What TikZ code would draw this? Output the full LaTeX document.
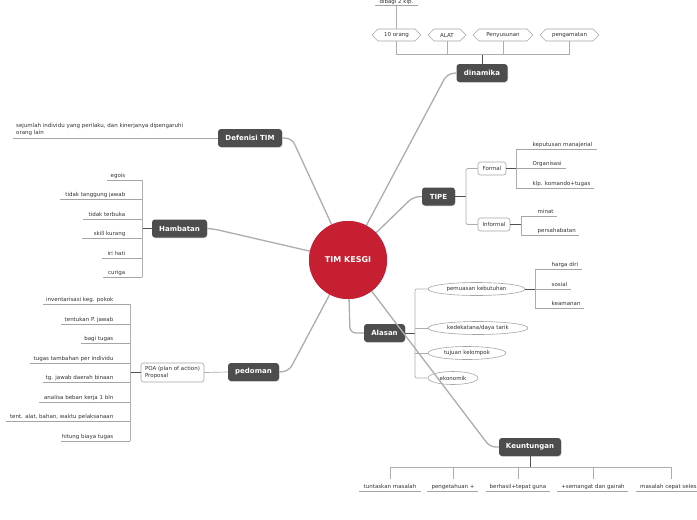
\documentclass[tikz,border=0pt]{standalone}
\usepackage{fontspec}
\setmainfont{DejaVu Sans}
\usetikzlibrary{shapes.geometric,shapes.symbols,shadows}
\definecolor{topicgray}{HTML}{4D4D4D}
\definecolor{timred}{HTML}{C71F32}
\definecolor{linegray}{HTML}{ADADAD}
\definecolor{ulgray}{HTML}{A5A5A5}
\definecolor{darkline}{HTML}{505050}
\definecolor{txtgray}{HTML}{333333}
\newcommand{\myleafL}[5]{%
  \draw[ul] (#3,#2) -- (#4,#2);
  \node[leaf, anchor=base east] (#1) at (#4-16.5,#2-2.8) {#5};}
\newcommand{\myleafR}[5]{%
  \draw[ul] (#3,#2) -- (#4,#2);
  \node[leaf, anchor=base west] (#1) at (#3+16.5,#2-2.8) {#5};}
\begin{document}
\begin{tikzpicture}[x=1pt,y=-1pt,
  topic/.style={fill=topicgray, rounded corners=3pt, text=white,
    font=\bfseries\fontsize{7}{8}\selectfont, minimum height=18pt, inner sep=0pt,
    drop shadow={opacity=0.25, shadow xshift=0.6pt, shadow yshift=-0.8pt}},
  leaf/.style={font=\fontsize{5.5}{7}\selectfont, text=txtgray, inner sep=0pt},
  ul/.style={draw=ulgray, line width=0.6pt},
  branch/.style={draw=linegray, line width=0.7pt},
  link/.style={draw=darkline, line width=1pt},
  main/.style={draw=linegray, line width=1.3pt, rounded corners=6pt},
  hex/.style={shape=signal, signal to=west and east, draw=ulgray, line width=0.6pt,
    minimum height=12pt, inner sep=0pt, font=\fontsize{5.5}{6}\selectfont, text=txtgray},
  box/.style={draw=ulgray, line width=0.6pt, rounded corners=2.5pt, fill=white,
    inner sep=2pt, font=\fontsize{5.5}{6.6}\selectfont, text=txtgray},
  ell/.style={ellipse, draw=ulgray, line width=0.6pt, fill=white, minimum height=13pt,
    inner sep=0pt, font=\fontsize{5.5}{6}\selectfont, text=txtgray}
]
\useasboundingbox (0,0) rectangle (697,520);
\fill[white] (0,0) rectangle (697,520);

% main topics
\node[topic, minimum width=51pt] (din) at (482,73) {dinamika};
\node[topic, minimum width=64pt] (def) at (250,138) {Defenisi TIM};
\node[topic, minimum width=55pt] (ham) at (179.5,228.5) {Hambatan};
\node[topic, minimum width=33pt] (tipe) at (438.5,196.5) {TIPE};
\node[topic, minimum width=41pt] (ala) at (384.5,333) {Alasan};
\node[topic, minimum width=51pt] (ped) at (253.5,372) {pedoman};
\node[topic, minimum width=62pt] (keu) at (530,447) {Keuntungan};

% central node (position reference for connectors)
\coordinate (timc) at (348,260);
\node[circle, minimum size=78pt, inner sep=0pt] (tim) at (timc) {};

% main connectors
\coordinate (bdin) at (447,74);
\coordinate (bdef) at (292,138.5);
\coordinate (bham) at (214,229);
\coordinate (btipe) at (413,197);
\coordinate (bala) at (350,333);
\coordinate (bped) at (289,371);
\coordinate (bkeu) at (490,447);
\draw[main] (din.west) -- (bdin) -- (tim);
\draw[main] (def.east) -- (bdef) -- (tim);
\draw[main] (ham.east) -- (bham) -- (tim);
\draw[main] (tipe.west) -- (btipe) -- (tim);
\draw[main] (ala.west) -- (bala) -- (tim);
\draw[main] (ped.east) -- (bped) -- (tim);

% central circle drawn over connector ends
\node[circle, fill=timred, minimum size=78pt, inner sep=0pt, text=white,
  font=\bfseries\fontsize{8}{9}\selectfont] (timtxt) at (timc) {TIM KESGI};

% ---------- dinamika ----------
\node[hex, minimum width=49pt] (h1) at (396.5,35) {10 orang};
\node[hex, minimum width=38pt] (h2) at (447,35) {ALAT};
\node[hex, minimum width=60pt] (h3) at (503,35) {Penyusunan};
\node[hex, minimum width=59pt] (h4) at (569.5,35) {pengamatan};
\coordinate (dinbar) at (482,54);
\draw[link] (din.north) -- (dinbar);
\draw[branch] (h1.south) -- (h1.south |- dinbar) -- (h4.south |- dinbar) -- (h4.south);
\draw[branch] (h2.south) -- (h2.south |- dinbar);
\draw[branch] (h3.south) -- (h3.south |- dinbar);
\coordinate (dibul) at (396.5,5);
\draw[branch] (h1.north) -- (dibul);
\draw[ul] (375,5) -- (418,5);
\node[leaf, anchor=base] (dib) at (396.5,3) {dibagi 2 klp.};

% ---------- Defenisi TIM ----------
\coordinate (defl) at (13,138);
\draw[ul] (def.west) -- (defl);
\node[leaf, anchor=south west, align=left] (deft) at (16,136)
  {sejumlah individu yang perilaku, dan kinerjanya dipengaruhi\\orang lain};

% ---------- Hambatan ----------
\coordinate (hambar) at (142,228.5);
\draw[link] (ham.west) -- (hambar);
\draw[branch] (142,180) -- (142,277);
\myleafL{hb1}{180}{107}{142}{egois}
\myleafL{hb2}{199}{60}{142}{tidak tanggung jawab}
\myleafL{hb3}{219}{83}{142}{tidak terbuka}
\myleafL{hb4}{238}{82}{142}{skill kurang}
\myleafL{hb5}{258}{102}{142}{iri hati}
\myleafL{hb6}{277}{103}{142}{curiga}

% ---------- pedoman ----------
\node[box, minimum width=63pt, minimum height=19pt, align=left] (poa) at (172.5,372.5)
  {POA (plan of action)\\Proposal};
\draw[branch] (ped.west) -- (poa.east);
\coordinate (poabar) at (130,372.5);
\draw[link] (poa.west) -- (poabar);
\draw[branch] (130,304) -- (130,441);
\myleafL{pd1}{304}{43}{130}{inventarisasi keg. pokok}
\myleafL{pd2}{324}{61}{130}{tentukan P. jawab}
\myleafL{pd3}{343}{81}{130}{bagi tugas}
\myleafL{pd4}{363}{30}{130}{tugas tambahan per individu}
\myleafL{pd5}{382}{43}{130}{tg. jawab daerah binaan}
\myleafL{pd6}{402}{39}{130}{analisa beban kerja 1 bln}
\myleafL{pd7}{421}{6}{130}{tent. alat, bahan, waktu pelaksanaan}
\myleafL{pd8}{441}{61}{130}{hitung biaya tugas}

% ---------- TIPE ----------
\node[box, minimum width=28pt, minimum height=13pt] (form) at (492,168.5) {Formal};
\node[box, minimum width=32pt, minimum height=13pt] (inf) at (494,224.5) {Informal};
\coordinate (tipebar) at (466,196.5);
\draw[link] (tipe.east) -- (tipebar);
\draw[branch, rounded corners=2pt] (form.west) -| (tipebar) |- (inf.west);
\coordinate (formbar) at (516,168.5);
\draw[link] (form.east) -- (formbar);
\draw[branch] (516,149) -- (516,188);
\myleafR{fo1}{149}{516}{597}{keputusan manajerial}
\myleafR{fo2}{168.5}{516}{566}{Organisasi}
\myleafR{fo3}{188}{516}{594}{klp. komando+tugas}
\coordinate (infbar) at (521,224.5);
\draw[link] (inf.east) -- (infbar);
\draw[branch] (521,216) -- (521,235);
\myleafR{in1}{216}{521}{557}{minat}
\myleafR{in2}{235}{521}{579}{persahabatan}

% ---------- Alasan ----------
\node[ell, minimum width=97pt] (e1) at (476.5,289) {pemuasan kebutuhan};
\node[ell, minimum width=100pt] (e2) at (478,328) {kedekatana/daya tarik};
\node[ell, minimum width=78pt] (e3) at (467,353) {tujuan kelompok};
\node[ell, minimum width=50pt] (e4) at (453,378) {ekonomik};
\coordinate (alabar) at (415,333);
\draw[link] (ala.east) -- (alabar);
\draw[branch, rounded corners=2pt] (e1.west) -| (alabar) |- (e4.west);
\draw[branch] (e2.west) -- (e2.west -| alabar);
\draw[branch] (e3.west) -- (e3.west -| alabar);
\coordinate (e1bar) at (535,289);
\draw[link] (e1.east) -- (e1bar);
\draw[branch] (535,269) -- (535,308);
\myleafR{pk1}{269}{535}{582}{harga diri}
\myleafR{pk2}{289}{535}{571}{sosial}
\myleafR{pk3}{308}{535}{584}{keamanan}

% Keuntungan connector, drawn over the Alasan branches
\draw[main] (keu.west) -- (bkeu) -- (tim);
\node[circle, fill=timred, minimum size=78pt, inner sep=0pt, text=white,
  font=\bfseries\fontsize{8}{9}\selectfont] (timtop) at (timc) {TIM KESGI};

% ---------- Keuntungan ----------
\coordinate (keubar) at (530,467);
\draw[link] (keu.south) -- (keubar);
\draw[branch] (390,479) -- (390,467) -- (671,467) -- (671,479);
\draw[branch] (453,467) -- (453,479);
\draw[branch] (518,467) -- (518,479);
\draw[branch] (593,467) -- (593,479);
\draw[ul] (359,491) -- (421,491);
\draw[ul] (427,491) -- (478,491);
\draw[ul] (486,491) -- (550,491);
\draw[ul] (557,491) -- (628,491);
\draw[ul] (636,491) -- (706,491);
\node[leaf, anchor=base] (k1) at (390,488.2) {tuntaskan masalah};
\node[leaf, anchor=base] (k2) at (453,488.2) {pengetahuan +};
\node[leaf, anchor=base] (k3) at (518,488.2) {berhasil+tepat guna};
\node[leaf, anchor=base] (k4) at (593,488.2) {+semangat dan gairah};
\node[leaf, anchor=base west] (k5) at (640,488.2) {masalah cepat selesai};
\end{tikzpicture}
\end{document}
